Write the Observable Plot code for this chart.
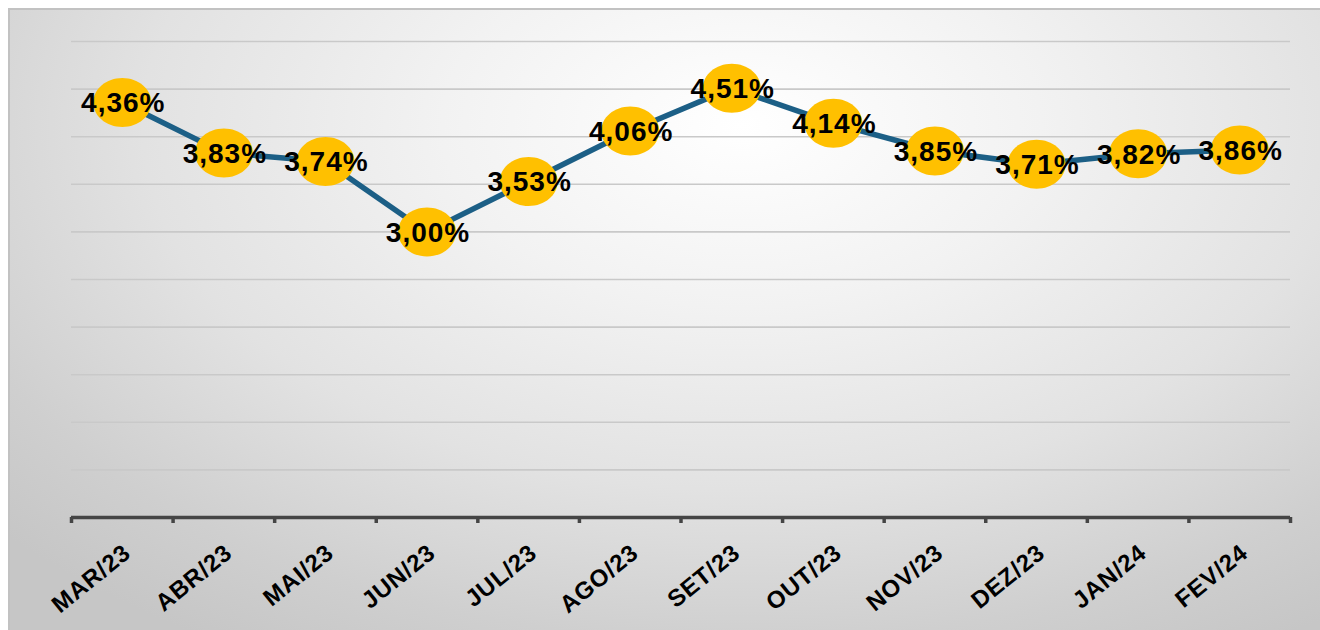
<!DOCTYPE html>
<html>
<head>
<meta charset="utf-8">
<script src="https://cdn.jsdelivr.net/npm/d3@7"></script>
<script src="https://cdn.jsdelivr.net/npm/@observablehq/plot@0.6"></script>
<style>
  html, body { margin: 0; padding: 0; background: #ffffff; overflow: hidden; width: 1320px; height: 630px; }
  #frame {
    position: absolute; left: 8px; top: 8px; width: 1330px; height: 640px;
    border-top: 2px solid #c2c2c2; border-left: 2px solid #c2c2c2;
    background: radial-gradient(ellipse 75% 95% at 55% 18%, #ffffff 0%, #f2f2f2 30%, #e2e2e2 60%, #cfcfcf 85%, #c6c6c6 100%);
  }
  #chart { position: absolute; left: 0; top: 0; }
  #chart svg { background: transparent !important; }
  .vlabel text { letter-spacing: 1px; }
  .mlabel text { letter-spacing: 0.8px; }
</style>
</head>
<body>
<div id="frame"></div>
<div id="chart"></div>
<script>
const months = ["MAR/23","ABR/23","MAI/23","JUN/23","JUL/23","AGO/23","SET/23","OUT/23","NOV/23","DEZ/23","JAN/24","FEV/24"];
const rates = [4.36, 3.83, 3.74, 3.00, 3.53, 4.06, 4.51, 4.14, 3.85, 3.71, 3.82, 3.86];
const gridValues = [0.5, 1, 1.5, 2, 2.5, 3, 3.5, 4, 4.5, 5];
const tickBounds = [0,1,2,3,4,5,6,7,8,9,10,11,12];

const rows = months.map((m, i) => ({month: m, pos: i + 0.5, value: rates[i]}));
const fmt = v => v.toFixed(2).replace(".", ",") + "%";

const ellipse = {
  draw(ctx) {
    const rx = 29, ry = 24.5, k = 0.5523;
    ctx.moveTo(rx, 0);
    ctx.bezierCurveTo(rx, ry * k, rx * k, ry, 0, ry);
    ctx.bezierCurveTo(-rx * k, ry, -rx, ry * k, -rx, 0);
    ctx.bezierCurveTo(-rx, -ry * k, -rx * k, -ry, 0, -ry);
    ctx.bezierCurveTo(rx * k, -ry, rx, -ry * k, rx, 0);
    ctx.closePath();
  }
};

const font = "'Liberation Sans', Arial, Helvetica, sans-serif";

const chart = Plot.plot({
  width: 1320,
  height: 630,
  marginLeft: 71,
  marginRight: 30,
  marginTop: 41,
  marginBottom: 113,
  style: {background: "transparent", fontFamily: font},
  x: {type: "linear", domain: [0, 12], axis: null},
  y: {domain: [0, 5], axis: null},
  marks: [
    Plot.ruleY(gridValues, {stroke: "#c9c9c9", strokeWidth: 1.6}),
    Plot.axisX(tickBounds, {tickSize: 6, tickFormat: () => "", label: null, stroke: "#454545", strokeWidth: 3.5, anchor: "bottom"}),
    Plot.ruleY([0], {stroke: "#454545", strokeWidth: 3.5}),
    Plot.line(rows, {x: "pos", y: "value", stroke: "#1c5f86", strokeWidth: 5.5}),
    Plot.dot(rows, {x: "pos", y: "value", symbol: ellipse, fill: "#ffc000", stroke: "none"}),
    Plot.text(rows, {x: "pos", y: "value", text: d => fmt(d.value), fontSize: 28, fontWeight: "bold", fill: "#000", dy: 1, dx: 1, className: "vlabel"}),
    Plot.text(rows, {x: "pos", y: 0, text: "month", rotate: -39, textAnchor: "end", fontSize: 24, fontWeight: "bold", fill: "#000", dx: 5, dy: 32, className: "mlabel"})
  ]
});
document.getElementById("chart").appendChild(chart);
</script>
</body>
</html>
